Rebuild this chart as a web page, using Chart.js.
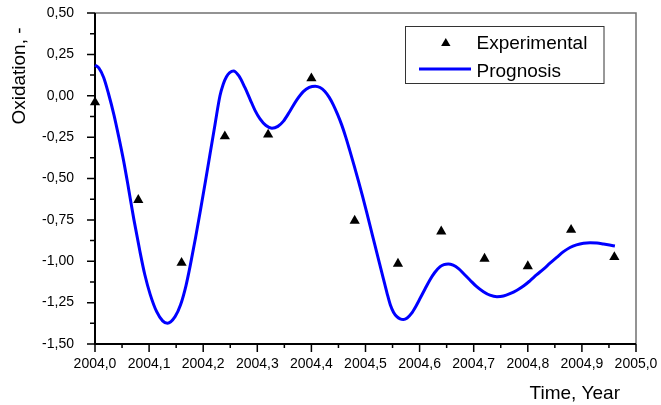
<!DOCTYPE html>
<html>
<head>
<meta charset="utf-8">
<script src="https://cdn.jsdelivr.net/npm/chart.js@4/dist/chart.umd.min.js"></script>
<style>
  body { margin: 0; background: #fff; }
  #myChart { display: block; }
</style>
</head>
<body>
<canvas id="myChart" width="661" height="405"></canvas>
<script>
// experimental points
const expX = [2004.00, 2004.08, 2004.16, 2004.24, 2004.32, 2004.40, 2004.48,
              2004.56, 2004.64, 2004.72, 2004.80, 2004.88, 2004.96];
const expY = [-0.04, -0.63, -1.01, -0.245, -0.235, 0.105, -0.755,
              -1.015, -0.82, -0.985, -1.03, -0.81, -0.975];

// prognosis curve
const progX = [2004.000, 2004.007, 2004.016, 2004.025, 2004.035, 2004.044, 2004.053,
               2004.062, 2004.072, 2004.083, 2004.092, 2004.102, 2004.114, 2004.125,
               2004.134, 2004.148, 2004.158, 2004.168, 2004.177, 2004.186, 2004.195,
               2004.204, 2004.213, 2004.222, 2004.231, 2004.237, 2004.243, 2004.249,
               2004.256, 2004.266, 2004.277, 2004.2865, 2004.296, 2004.305, 2004.316,
               2004.327, 2004.338, 2004.348, 2004.360, 2004.373, 2004.385, 2004.396,
               2004.407, 2004.416, 2004.425, 2004.433, 2004.4405, 2004.448, 2004.456,
               2004.4635, 2004.471, 2004.479, 2004.487, 2004.4945, 2004.502, 2004.510,
               2004.518, 2004.526, 2004.533, 2004.540, 2004.546, 2004.552, 2004.558,
               2004.564, 2004.570, 2004.577, 2004.585, 2004.593, 2004.601, 2004.610,
               2004.619, 2004.628, 2004.638, 2004.645, 2004.653, 2004.662, 2004.672,
               2004.682, 2004.693, 2004.705, 2004.718, 2004.730, 2004.743, 2004.755,
               2004.767, 2004.780, 2004.792, 2004.804, 2004.816, 2004.829, 2004.841,
               2004.854, 2004.866, 2004.878, 2004.890, 2004.903, 2004.915, 2004.928,
               2004.940, 2004.951, 2004.961];
const progY = [0.185, 0.168, 0.11, 0.012, -0.115, -0.25, -0.395,
               -0.56, -0.75, -0.94, -1.08, -1.20, -1.305, -1.36,
               -1.375, -1.335, -1.265, -1.15, -1.01, -0.855, -0.69,
               -0.52, -0.345, -0.17, 0.0, 0.07, 0.115, 0.14,
               0.15, 0.12, 0.05, -0.02, -0.09, -0.14, -0.18,
               -0.196, -0.185, -0.155, -0.095, -0.025, 0.025, 0.05,
               0.058, 0.05, 0.026, -0.01, -0.055, -0.11, -0.176,
               -0.25, -0.332, -0.422, -0.516, -0.607, -0.702, -0.806,
               -0.91, -1.014, -1.105, -1.195, -1.265, -1.31, -1.335,
               -1.348, -1.352, -1.343, -1.315, -1.273, -1.224, -1.168,
               -1.113, -1.068, -1.033, -1.02, -1.016, -1.024, -1.045,
               -1.077, -1.113, -1.152, -1.184, -1.205, -1.214, -1.21,
               -1.196, -1.175, -1.15, -1.118, -1.083, -1.047, -1.012,
               -0.975, -0.942, -0.917, -0.901, -0.891, -0.888, -0.89,
               -0.896, -0.902, -0.908];

// axis ticks
const xMajor = [2004.0, 2004.1, 2004.2, 2004.3, 2004.4, 2004.5, 2004.6, 2004.7, 2004.8, 2004.9, 2005.0];
const yMajor = [0.5, 0.25, 0, -0.25, -0.5, -0.75, -1.0, -1.25, -1.5];

const FONT = '"Liberation Sans", Arial, sans-serif';
const BLUE = '#0000ff';

function comma(v, d) {
  if (Math.abs(v) < 1e-9) v = 0;
  return v.toFixed(d).replace('.', ',');
}

function triangle(ctx, x, y, r) {
  ctx.beginPath();
  ctx.moveTo(x, y - r);
  ctx.lineTo(x + r * 0.866, y + r / 2);
  ctx.lineTo(x - r * 0.866, y + r / 2);
  ctx.closePath();
  ctx.fill();
}

// axes, frame, minor ticks, titles, legend
const decor = {
  id: 'decor',
  beforeDatasetsDraw(chart) {
    const { ctx, chartArea: a, scales: { x, y } } = chart;
    ctx.save();
    ctx.strokeStyle = '#707070';
    ctx.lineWidth = 1.5;
    ctx.beginPath();
    ctx.moveTo(a.left, a.top);
    ctx.lineTo(a.right, a.top);
    ctx.lineTo(a.right, a.bottom);
    ctx.stroke();

    ctx.strokeStyle = '#000';
    ctx.lineWidth = 2;
    ctx.beginPath();
    ctx.moveTo(a.left, a.top);
    ctx.lineTo(a.left, a.bottom);
    ctx.lineTo(a.right, a.bottom);
    ctx.stroke();

    ctx.lineWidth = 1.5;
    ctx.beginPath();
    for (let i = 0; i < xMajor.length; i++) {
      const px = x.getPixelForValue(xMajor[i]);
      ctx.moveTo(px, a.bottom);
      ctx.lineTo(px, a.bottom + 8);
      if (i < xMajor.length - 1) {
        const mx = x.getPixelForValue((xMajor[i] + xMajor[i + 1]) / 2);
        ctx.moveTo(mx, a.bottom);
        ctx.lineTo(mx, a.bottom + 4);
      }
    }
    for (let i = 0; i < yMajor.length; i++) {
      const py = y.getPixelForValue(yMajor[i]);
      ctx.moveTo(a.left, py);
      ctx.lineTo(a.left - 8, py);
      if (i < yMajor.length - 1) {
        const my = y.getPixelForValue((yMajor[i] + yMajor[i + 1]) / 2);
        ctx.moveTo(a.left, my);
        ctx.lineTo(a.left - 5, my);
      }
    }
    ctx.stroke();
    ctx.restore();
  },
  afterDraw(chart) {
    const ctx = chart.ctx;
    ctx.save();
    ctx.fillStyle = '#000';
    ctx.font = '19px ' + FONT;
    ctx.textBaseline = 'alphabetic';

    // x title
    ctx.textAlign = 'right';
    ctx.fillText('Time, Year', 620, 399);

    // y title
    ctx.save();
    ctx.translate(25, 76);
    ctx.rotate(-Math.PI / 2);
    ctx.textAlign = 'center';
    ctx.fillText('Oxidation, -', 0, 0);
    ctx.restore();

    // legend
    ctx.strokeStyle = '#333';
    ctx.lineWidth = 1;
    ctx.strokeRect(405.5, 26.5, 198.5, 57);
    triangle(ctx, 445.8, 43.3, 5.4);
    ctx.textAlign = 'left';
    ctx.fillText(chart.data.datasets[1].label, 476.5, 49);
    ctx.fillText(chart.data.datasets[0].label, 476.5, 76.5);
    ctx.strokeStyle = BLUE;
    ctx.lineWidth = 3;
    ctx.beginPath();
    ctx.moveTo(419, 69);
    ctx.lineTo(471, 69);
    ctx.stroke();
    ctx.restore();
  }
};

const ctx = document.getElementById('myChart');

new Chart(ctx, {
  type: 'scatter',
  data: {
    datasets: [{
      type: 'line',
      label: 'Prognosis',
      data: progX.map((v, i) => ({ x: v, y: progY[i] })),
      borderColor: BLUE,
      borderWidth: 3,
      pointRadius: 0,
      fill: false,
      cubicInterpolationMode: 'monotone',
      clip: false
    }, {
      label: 'Experimental',
      data: expX.map((v, i) => ({ x: v, y: expY[i] })),
      pointStyle: 'triangle',
      pointRadius: 5.9,
      pointBackgroundColor: '#000',
      pointBorderColor: '#000',
      pointBorderWidth: 0,
      clip: false
    }]
  },
  options: {
    responsive: false,
    animation: false,
    events: [],
    layout: {
      padding: { top: 13, right: 25, left: 0, bottom: 0 }
    },
    plugins: {
      legend: { display: false },
      tooltip: { enabled: false }
    },
    scales: {
      x: {
        type: 'linear',
        min: 2004,
        max: 2005,
        grid: { display: false },
        border: { display: false },
        afterFit: (s) => { s.height = 61; s.paddingLeft = 0; s.paddingRight = 0; },
        ticks: {
          stepSize: 0.1,
          padding: 4,
          color: '#000',
          font: { family: FONT, size: 14 },
          maxRotation: 0,
          autoSkip: false,
          callback: (v) => comma(v, 1)
        }
      },
      y: {
        min: -1.5,
        max: 0.5,
        grid: { display: false },
        border: { display: false },
        afterFit: (s) => { s.width = 95; s.paddingTop = 0; s.paddingBottom = 0; },
        ticks: {
          stepSize: 0.25,
          padding: 13,
          color: '#000',
          font: { family: FONT, size: 14 },
          callback: (v) => comma(v, 2)
        }
      }
    }
  },
  plugins: [decor]
});
</script>
</body>
</html>
